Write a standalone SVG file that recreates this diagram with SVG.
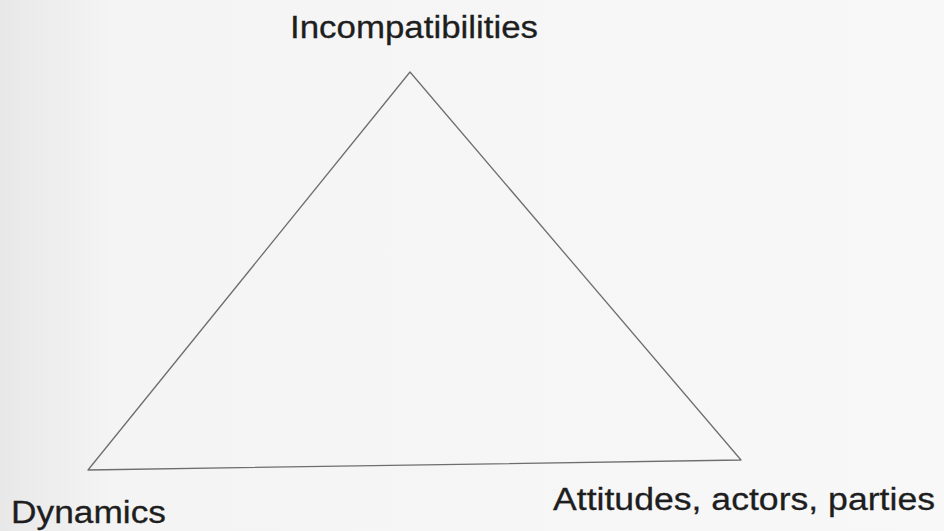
<svg xmlns="http://www.w3.org/2000/svg" width="944" height="531" viewBox="0 0 944 531">
  <defs>
    <linearGradient id="bg" x1="0" y1="0" x2="1" y2="0">
      <stop offset="0" stop-color="#e8e8e8"/>
      <stop offset="0.12" stop-color="#f4f4f4"/>
      <stop offset="1" stop-color="#f8f8f8"/>
    </linearGradient>
  </defs>
  <style>
    .lbl { font-family: "Liberation Sans", Arial, sans-serif; font-size: 31px; fill: #1e1e1e; stroke: #1e1e1e; stroke-width: 0.3; }
    .edge { fill: none; stroke: #6e6e6e; stroke-width: 1.3; stroke-linejoin: round; }
  </style>
  <rect width="944" height="531" fill="url(#bg)"/>
  <g id="connectors">
    <polygon class="edge" points="410,72 88,470 741,460"/>
  </g>
  <g id="incompatibilities">
    <text class="lbl" x="290" y="38" textLength="248" lengthAdjust="spacingAndGlyphs">Incompatibilities</text>
  </g>
  <g id="dynamics">
    <text class="lbl" x="11" y="523" textLength="155" lengthAdjust="spacingAndGlyphs">Dynamics</text>
  </g>
  <g id="attitudes">
    <text class="lbl" x="553" y="510" textLength="382" lengthAdjust="spacingAndGlyphs">Attitudes, actors, parties</text>
  </g>
</svg>
